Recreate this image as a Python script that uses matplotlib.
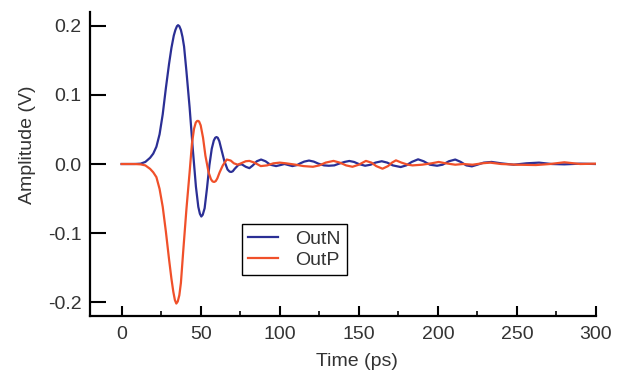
import matplotlib

matplotlib.use("Agg")
import matplotlib.pyplot as plt
from matplotlib.ticker import FormatStrFormatter, MultipleLocator

plt.rcParams["font.family"] = ["Liberation Sans Narrow", "Liberation Sans", "DejaVu Sans"]
plt.rcParams["axes.unicode_minus"] = False

TEXT = "#333333"

# OutN waveform (time in ps, amplitude in V)
t_n = [0, 8, 12, 15, 18, 20, 22, 24, 26, 28, 30, 31.5, 33, 34, 35, 35.7, 36.5,
       37.5, 38.5, 39.5, 41, 43, 45, 47, 48.5, 49.5, 50.4, 51.3, 52.5, 54, 55.5,
       57, 58.3, 59.2, 60, 60.8, 61.8, 63, 65, 67, 68.3, 69.3, 70.3, 71.5, 74,
       76, 78.5, 80.8, 83, 85.5, 88.2, 91, 94, 97.7, 100.5, 103, 105.5, 108, 111,
       113, 115.5, 118.5, 121.5, 124.5, 128, 131, 134.5, 137.5, 141, 144, 147,
       150, 154, 157.5, 160.5, 164.5, 168, 171.5, 176.5, 180, 183.5, 187.5, 191,
       195, 199.5, 203, 207, 211, 214.5, 218, 221.5, 225, 229, 234, 240, 248,
       256, 264, 272, 280, 290, 300]
out_n = [0.0, 0.0, 0.0005, 0.003, 0.009, 0.015, 0.025, 0.043, 0.072, 0.11, 0.145,
         0.168, 0.186, 0.194, 0.1995, 0.201, 0.1995, 0.194, 0.184, 0.17, 0.134,
         0.082, 0.022, -0.033, -0.062, -0.072, -0.076, -0.0735, -0.064, -0.035,
         -0.002, 0.022, 0.034, 0.038, 0.039, 0.038, 0.033, 0.022, 0.004, -0.008,
         -0.011, -0.0115, -0.0105, -0.007, -0.001, -0.0005, -0.004, -0.006,
         -0.002, 0.004, 0.0065, 0.004, -0.001, -0.003, -0.0015, 0.0, -0.0015,
         -0.003, -0.0015, 0.001, 0.0035, 0.005, 0.0035, 0.0005, -0.002, -0.0025,
         -0.002, 0.0005, 0.003, 0.0044, 0.003, 0.0, -0.0025, -0.001, 0.002, 0.004,
         0.002, -0.002, -0.0044, -0.002, 0.003, 0.0068, 0.004, -0.001, -0.0025,
         -0.001, 0.004, 0.0065, 0.003, -0.002, -0.0034, -0.001, 0.002, 0.003,
         0.001, -0.001, 0.001, 0.002, 0.0, -0.0005, 0.0005, 0.0]

# OutP waveform
t_p = [0, 8, 12, 15, 18, 20, 22, 24, 26, 28, 30, 31.5, 32.7, 33.7, 34.6, 35.5,
       36.5, 37.5, 39, 41, 43, 44.5, 45.8, 46.9, 47.7, 48.3, 49, 50, 51.5, 53,
       55, 56.5, 57.5, 58.5, 59.5, 60.5, 62, 64, 66.5, 69, 71, 73.5, 76, 78.5,
       80.8, 84, 88, 92, 96, 100, 104, 110, 115, 121, 125, 129, 134, 138, 142,
       146, 150, 154.5, 158, 161, 165, 168.5, 171, 173.5, 177, 181, 184, 190,
       196, 200.5, 205, 211, 216, 222, 228, 233, 240, 250, 262, 271, 280, 290,
       300]
out_p = [0.0, 0.0, -0.0005, -0.002, -0.007, -0.012, -0.019, -0.036, -0.062,
         -0.098, -0.138, -0.166, -0.185, -0.197, -0.202, -0.199, -0.19, -0.172,
         -0.125, -0.065, -0.012, 0.03, 0.051, 0.06, 0.0622, 0.0625, 0.0615, 0.056,
         0.038, 0.012, -0.012, -0.022, -0.0252, -0.026, -0.0248, -0.021, -0.012,
         -0.002, 0.0065, 0.005, 0.001, -0.001, 0.0015, 0.004, 0.0045, 0.002,
         -0.003, -0.002, 0.001, 0.002, 0.001, -0.001, -0.003, -0.004, -0.002,
         0.002, 0.0045, 0.002, -0.002, -0.004, -0.001, 0.0045, 0.002, -0.003,
         -0.0068, -0.003, 0.002, 0.0053, 0.002, -0.001, -0.002, -0.001, 0.001,
         0.003, 0.001, -0.001, 0.0, -0.001, 0.001, 0.002, 0.0, -0.001, -0.0015,
         0.0, 0.0025, 0.0, 0.0005]

fig = plt.figure(figsize=(6.28, 3.76), dpi=100)
ax = fig.add_axes([0.1433, 0.1596, 0.8057, 0.8084])

ax.plot(t_n, out_n, color="#2b2f95", lw=1.6, label="OutN")
ax.plot(t_p, out_p, color="#f0502a", lw=1.6, label="OutP")

ax.set_xlim(-20, 300)
ax.set_ylim(-0.22, 0.22)
ax.xaxis.set_major_locator(MultipleLocator(50))
ax.xaxis.set_minor_locator(MultipleLocator(25))
ax.yaxis.set_major_locator(MultipleLocator(0.1))
ax.yaxis.set_major_formatter(FormatStrFormatter("%.1f"))

for side in ("top", "right"):
    ax.spines[side].set_visible(False)
for side in ("left", "bottom"):
    ax.spines[side].set_linewidth(1.6)

ax.tick_params(axis="x", which="major", direction="in", length=7.2, width=1.5,
               labelsize=14, pad=7, labelcolor=TEXT)
ax.tick_params(axis="x", which="minor", direction="in", length=3.6, width=1.2)
ax.tick_params(axis="y", which="major", direction="in", length=11.5, width=1.5,
               labelsize=14, pad=6, labelcolor=TEXT)

ax.set_xlabel("Time (ps)", fontsize=14, color=TEXT)
ax.set_ylabel("Amplitude (V)", fontsize=14, color=TEXT)
ax.xaxis.set_label_coords(0.528, -0.122)
ax.yaxis.set_label_coords(-0.107, 0.5625)

leg = ax.legend(loc="lower left", bbox_to_anchor=(0.30, 0.135), borderaxespad=0,
                fontsize=14, fancybox=False, framealpha=1, edgecolor="black",
                handlelength=1.55, handletextpad=0.9, labelspacing=0.2,
                borderpad=0.3)
leg.get_frame().set_linewidth(1.0)
for txt in leg.get_texts():
    txt.set_color(TEXT)

fig.savefig("out.png", dpi=100)
